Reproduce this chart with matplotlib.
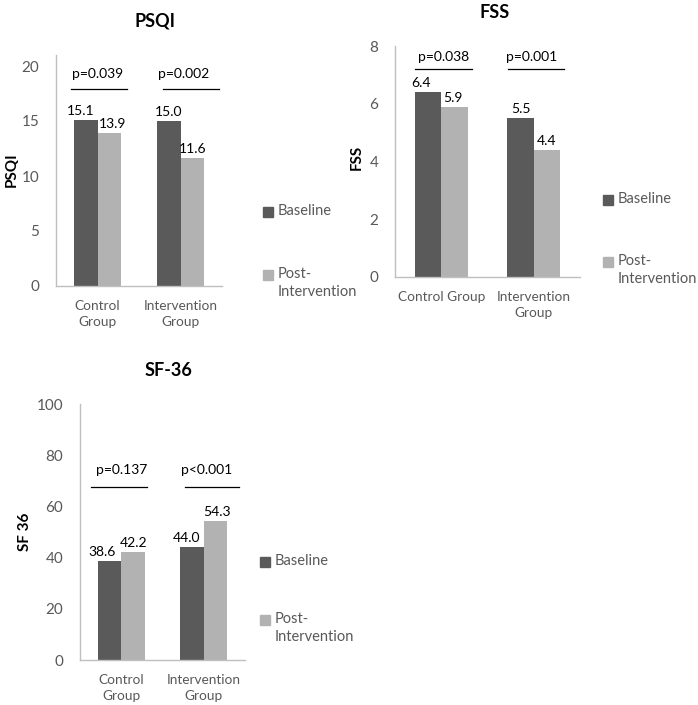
import numpy as np
import matplotlib.pyplot as plt
from matplotlib.patches import Rectangle

plt.rcParams['font.family'] = ['Lato', 'DejaVu Sans']

# Data
groups = ["Control\nGroup", "Intervention\nGroup"]
fss_groups = ["Control Group", "Intervention\nGroup"]
series = ["Baseline", "Post-\nIntervention"]

psqi_baseline = [15.1, 15.0]
psqi_post = [13.9, 11.6]
psqi_p = ["p=0.039", "p=0.002"]

fss_baseline = [6.4, 5.5]
fss_post = [5.9, 4.4]
fss_p = ["p=0.038", "p=0.001"]

sf_baseline = [38.6, 44.0]
sf_post = [42.2, 54.3]
sf_p = ["p=0.137", "p<0.001"]

dark = "#5a5a5a"
light = "#b2b2b2"
grey_txt = "#595959"
W, H = 698, 705


def px_axes(fig, left, top, right, bottom):
    return fig.add_axes([left / W, 1 - bottom / H, (right - left) / W, (bottom - top) / H])


def panel(ax, base, post, labels, pvals, ymax, yticks, pline_y, ptext_y,
          line_spans, text_offsets, label_dx):
    x = np.arange(len(base))
    w = 0.285
    ax.bar(x - w / 2, base, w, color=dark)
    ax.bar(x + w / 2, post, w, color=light)
    # value labels (Excel nudges them apart when they would collide)
    for i, (xi, b, p) in enumerate(zip(x, base, post)):
        db, dp = label_dx[i]
        ax.annotate(f"{b:.1f}", (xi - w / 2, b), xytext=(db, 3), textcoords="offset pixels",
                    ha="center", va="bottom", fontsize=10)
        ax.annotate(f"{p:.1f}", (xi + w / 2, p), xytext=(dp, 3), textcoords="offset pixels",
                    ha="center", va="bottom", fontsize=10)
    for xi, pv, (a, b), off in zip(x, pvals, line_spans, text_offsets):
        ax.plot([xi + a, xi + b], [pline_y, pline_y], color="black", lw=0.9)
        ax.text(xi + off, ptext_y, pv, ha="center", va="center", fontsize=10)
    ax.set_xlim(-0.5, len(base) - 0.5)
    ax.set_ylim(0, ymax)
    ax.set_yticks(yticks)
    ax.set_xticks(x)
    ax.set_xticklabels(labels, color=grey_txt, fontsize=9.8, linespacing=1.45)
    ax.tick_params(axis="y", colors=grey_txt, labelsize=11, length=0, pad=12)
    ax.tick_params(axis="x", length=0, pad=10)
    for s in ["top", "right"]:
        ax.spines[s].set_visible(False)
    for s in ["left", "bottom"]:
        ax.spines[s].set_color("#bfbfbf")
        ax.spines[s].set_linewidth(1.0)


def legend_px(fig, sx, y1, y2):
    # Excel-like legend: square beside the first line of each entry
    for col, lab, y in [(dark, series[0], y1), (light, series[1], y2)]:
        fig.add_artist(Rectangle((sx / W, 1 - (y + 5) / H), 10 / W, 10 / H,
                                 transform=fig.transFigure, color=col))
        fig.text((sx + 15) / W, 1 - (y - 8) / H, lab, ha="left", va="top",
                 fontsize=10.5, color=grey_txt, linespacing=1.35)


fig = plt.figure(figsize=(W / 100, H / 100), dpi=100)

# PSQI
ax1 = px_axes(fig, 56, 55, 222, 286)
panel(ax1, psqi_baseline, psqi_post, groups, psqi_p, 21, [0, 5, 10, 15, 20],
      17.9, 19.3, [(-0.32, 0.355), (-0.21, 0.46)], [0.0, 0.04],
      [(-5, 3), (0, 0)])
fig.text(155 / W, 1 - 21 / H, "PSQI", ha="center", va="center", fontsize=13, fontweight="bold")
fig.text(12 / W, 1 - 170 / H, "PSQI", ha="center", va="center", rotation=90, fontsize=11, fontweight="bold")
legend_px(fig, 263, 212, 275)

# FSS
ax2 = px_axes(fig, 395, 46, 580, 277)
panel(ax2, fss_baseline, fss_post, fss_groups, fss_p, 8, [0, 2, 4, 6, 8],
      7.19, 7.63, [(-0.28, 0.33), (-0.28, 0.33)], [0.02, -0.02],
      [(-7, -2), (0, 0)])
fig.text(495 / W, 1 - 13 / H, "FSS", ha="center", va="center", fontsize=13, fontweight="bold")
fig.text(357 / W, 1 - 157 / H, "FSS", ha="center", va="center", rotation=90, fontsize=11, fontweight="bold")
legend_px(fig, 603, 200, 262)

# SF-36
ax3 = px_axes(fig, 80, 404, 245, 660)
panel(ax3, sf_baseline, sf_post, groups, sf_p, 100, [0, 20, 40, 60, 80, 100],
      67.4, 74.4, [(-0.37, 0.31), (-0.23, 0.43)], [0.0, 0.04],
      [(-7, 1), (-5, 1)])
fig.text(168 / W, 1 - 370 / H, "SF-36", ha="center", va="center", fontsize=13, fontweight="bold")
fig.text(25 / W, 1 - 532 / H, "SF 36", ha="center", va="center", rotation=90, fontsize=11, fontweight="bold")
legend_px(fig, 260, 562, 620)

fig.savefig("out.png", dpi=100)
